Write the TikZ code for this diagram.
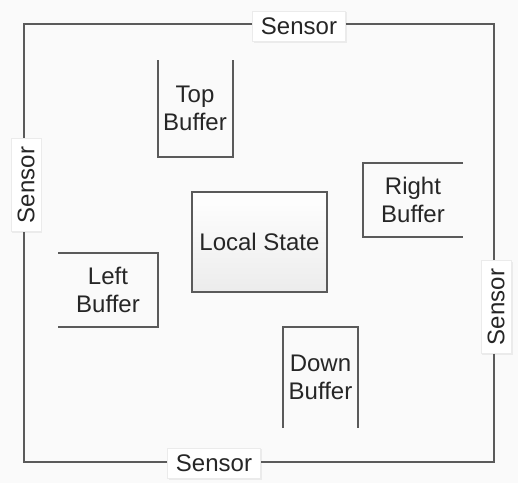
\documentclass[tikz,border=0pt]{standalone}
\usepackage{fontspec}
\setmainfont{Liberation Sans}
\usepackage{tikz}
\usetikzlibrary{shadows}
\definecolor{wire}{HTML}{5A5A5A}
\definecolor{ink}{HTML}{262626}
\definecolor{paper}{HTML}{FAFAFA}

\tikzset{
    wall/.style={draw=wire, line width=1.5pt},
    labelfont/.style={font=\fontsize{18}{21}\selectfont, text=ink},
    sensorbox/.style={labelfont, fill=white, draw=black!8, inner xsep=6.5pt, inner ysep=5pt,
                      drop shadow={opacity=0.12, shadow xshift=1pt, shadow yshift=-1pt}},
    bufferbox/.style={labelfont, align=center, inner sep=0pt, outer sep=0pt},
}

\begin{document}
\begin{tikzpicture}[x=0.75pt, y=-0.75pt]
                \fill[paper] (0,0) rectangle (518,483);
                \useasboundingbox (0,0) rectangle (518,483);
                % outer ring of sensors
                \coordinate (NW) at (24,24);
                \coordinate (NE) at (494,24);
                \coordinate (SE) at (494,462);
                \coordinate (SW) at (24,462);
                \node[sensorbox] (STop) at (299,26) {Sensor};
                \node[sensorbox, rotate=90] (SRight) at (496,307) {Sensor};
                \node[sensorbox] (SDown) at (214,463) {Sensor};
                \node[sensorbox, rotate=90] (SLeft) at (26,185) {Sensor};
                \draw[wall] (STop.west |- NW) -- (NW) -- (NW |- SLeft.east);
                \draw[wall] (STop.east |- NE) -- (NE) -- (NE |- SRight.east);
                \draw[wall] (SE |- SRight.west) -- (SE) -- (SDown.east |- SE);
                \draw[wall] (SDown.west |- SW) -- (SW) -- (SW |- SLeft.west);
                % local state
                \node[labelfont, draw=wire, line width=1.1pt, top color=white, bottom color=gray!15,
                      minimum width=101.25pt, minimum height=75pt,
                      drop shadow={opacity=0.15, shadow xshift=1pt, shadow yshift=-1pt}] (LS) at (259.5,242) {Local State};
                % buffers
                \node[bufferbox, minimum width=56.25pt, minimum height=72.75pt] (TB) at (195,108.5) {Top\\Buffer};
                \node[bufferbox, minimum width=75pt, minimum height=55.5pt] (RB) at (413,200) {Right\\Buffer};
                \node[bufferbox, minimum width=75pt, minimum height=55.5pt] (LB) at (108,290) {Left\\Buffer};
                \node[bufferbox, minimum width=56.25pt, minimum height=75.75pt] (DB) at (320.5,377.5) {Down\\Buffer};
                \draw[wall] (TB.north west) -- (TB.south west) -- (TB.south east) -- (TB.north east);
                \draw[wall] (RB.north east) -- (RB.north west) -- (RB.south west) -- (RB.south east);
                \draw[wall] (LB.north west) -- (LB.north east) -- (LB.south east) -- (LB.south west);
                \draw[wall] (DB.south west) -- (DB.north west) -- (DB.north east) -- (DB.south east);
\end{tikzpicture}
\end{document}
